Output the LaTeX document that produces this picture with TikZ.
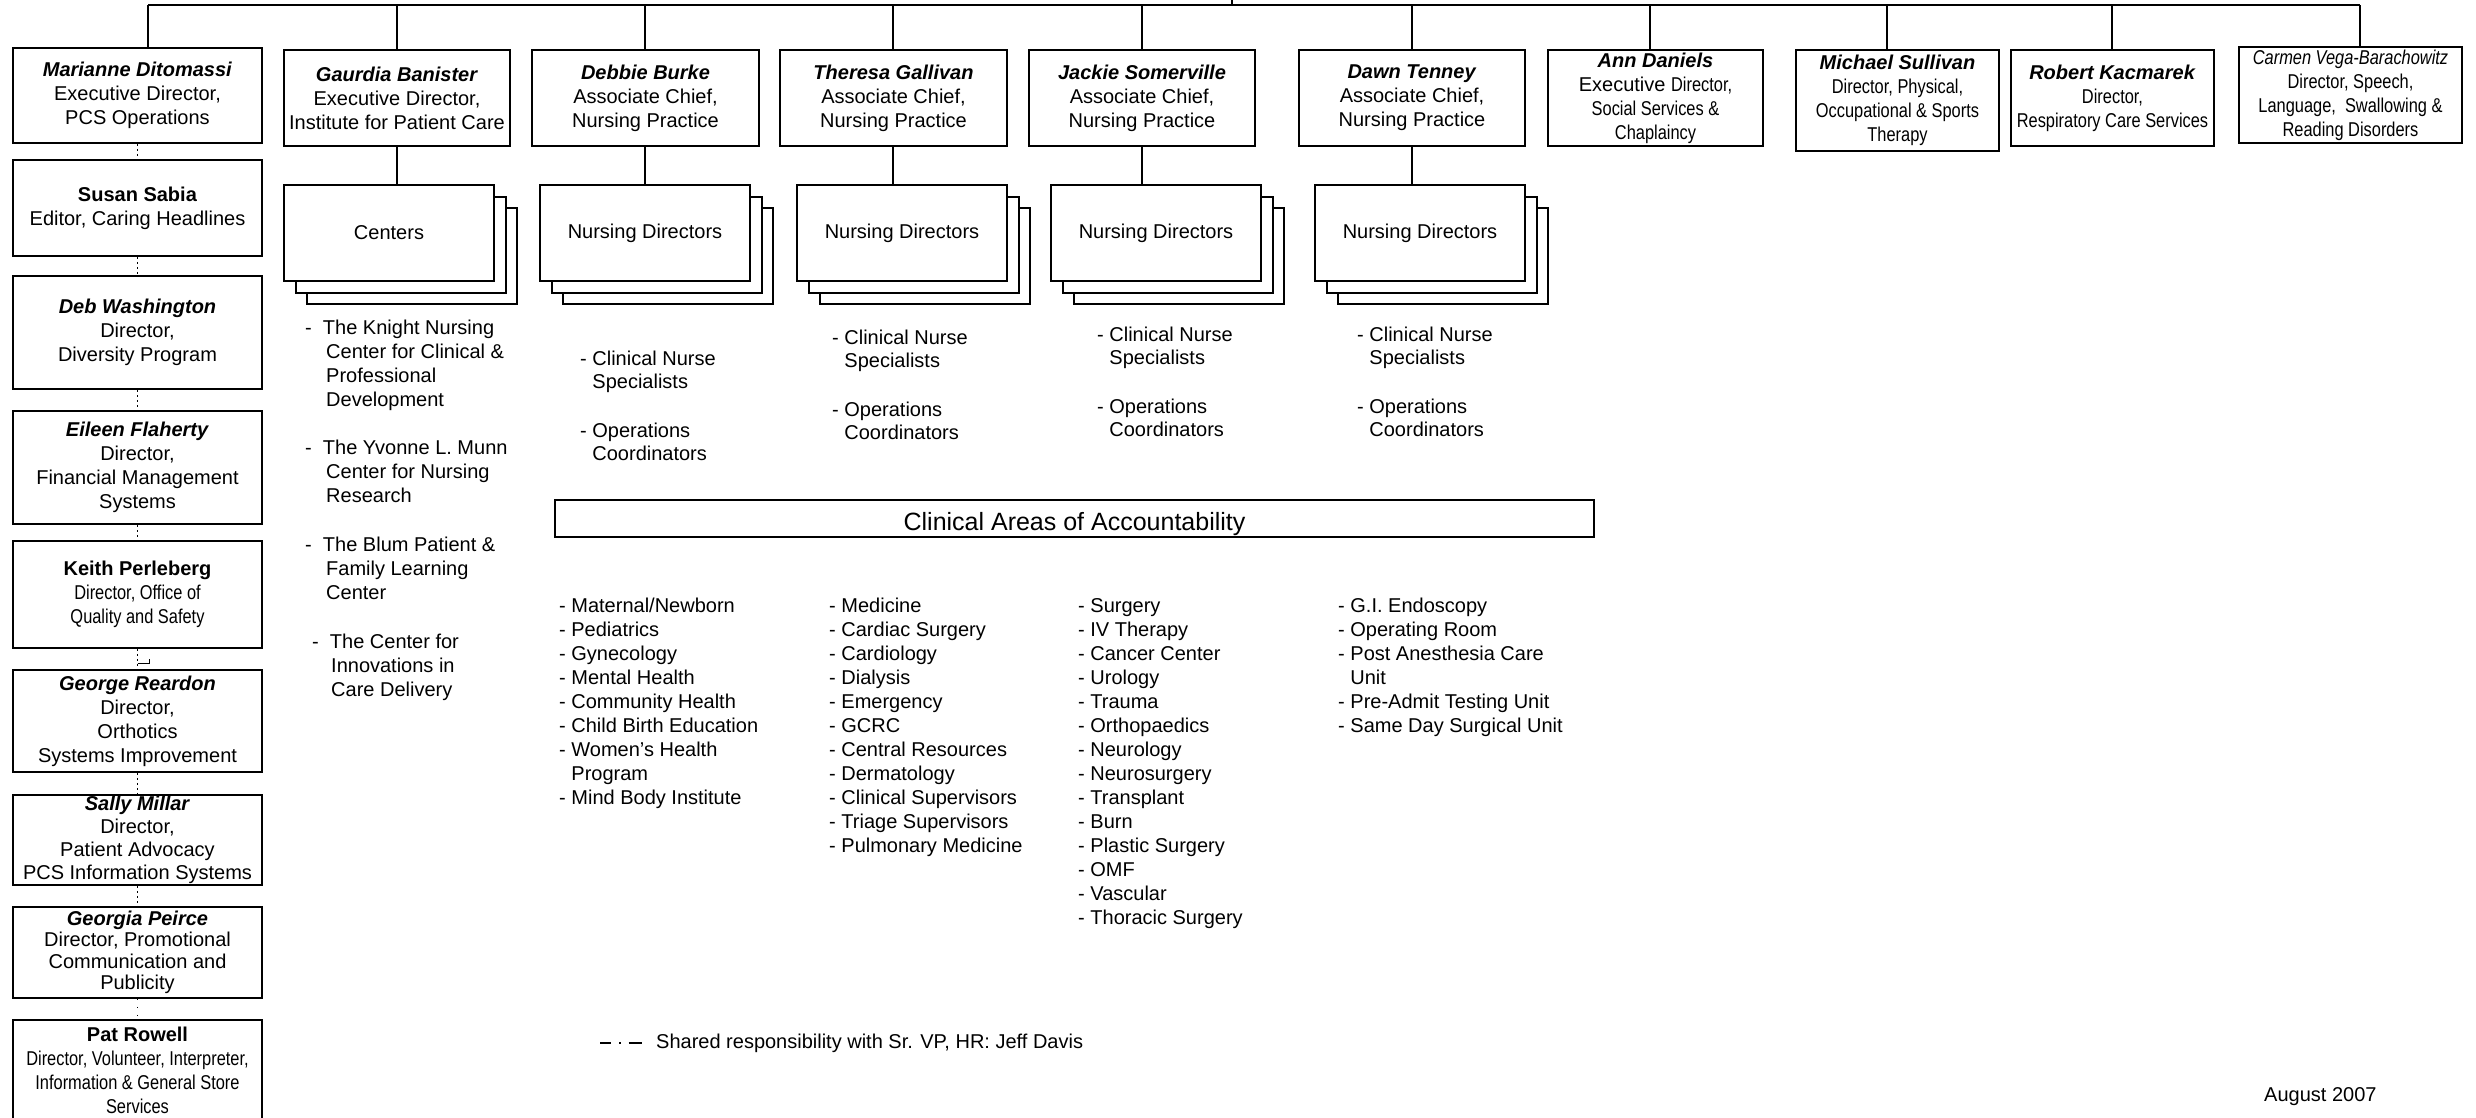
\documentclass[tikz,border=0pt]{standalone}
\usepackage{fontspec}
\setmainfont{Liberation Sans}
\newfontfamily\nfont[FakeStretch=0.82]{Liberation Sans}
\usetikzlibrary{positioning,calc,shadows}
\newcommand\fs{\fontsize{20}{24}\selectfont}

\begin{document}
\begin{tikzpicture}[x=1pt, y=-1pt,
    box/.style={draw, line width=1.6pt, fill=white, align=center,
      inner sep=0pt, font=\fs},
    sz/.style 2 args={minimum width=#1pt, minimum height=#2pt},
    stack/.style={box, sz={210}{96},
      copy shadow={shadow xshift=23pt, shadow yshift=-23pt, draw=black, fill=white, line width=1.6pt, opacity=1},
      copy shadow={shadow xshift=12pt, shadow yshift=-12pt, draw=black, fill=white, line width=1.6pt, opacity=1}},
    list/.style={align=left, inner sep=0pt, font=\fs, anchor=north west},
    link/.style={line width=1.8pt},
    dots/.style={line width=1.4pt, dash pattern=on 2pt off 3pt}]
  \path[use as bounding box, fill=white] (0,0) rectangle (2476,1118);

  % top row
  \node[box, sz={249}{95}] (MD) at (137.5,95.5) {\textbf{\textit{Marianne Ditomassi}}\\Executive Director,\\PCS Operations};
  \node[box, sz={226}{96}] (GB) at (397,98) {\textbf{\textit{Gaurdia Banister}}\\Executive Director,\\Institute for Patient Care};
  \node[box, sz={227}{96}] (DB) at (645.5,98) {\textbf{\textit{Debbie Burke}}\\Associate Chief,\\Nursing Practice};
  \node[box, sz={227}{96}] (TG) at (893.5,98) {\textbf{\textit{Theresa Gallivan}}\\Associate Chief,\\Nursing Practice};
  \node[box, sz={226}{96}] (JS) at (1142,98) {\textbf{\textit{Jackie Somerville}}\\Associate Chief,\\Nursing Practice};
  \node[box, sz={226}{96}] (DT) at (1412,98) {\textbf{\textit{Dawn Tenney}}\\Associate Chief,\\Nursing Practice};
  \node[box, sz={215}{96}] (AD) at (1655.5,98) {\textbf{\textit{Ann Daniels}}\\Executive {\nfont Director,}\\{\nfont Social Services \&}\\{\nfont Chaplaincy}};
  \node[box, sz={203}{101}] (MS) at (1897.5,100.5) {\textbf{\textit{Michael Sullivan}}\\{\nfont Director, Physical,}\\{\nfont Occupational \& Sports}\\{\nfont Therapy}};
  \node[box, sz={203}{96}] (RK) at (2112.5,98) {\textbf{\textit{Robert Kacmarek}}\\{\nfont Director,}\\{\nfont Respiratory Care Services}};
  \node[box, sz={223}{96}] (CV) at (2350.5,95) {{\nfont\itshape Carmen Vega-Barachowitz}\\{\nfont Director, Speech,}\\{\nfont Language,\ \ Swallowing \&}\\{\nfont Reading Disorders}};

  \coordinate (bus) at (0,5);
  \coordinate (root) at (1232,5);
  \foreach \n/\dx in {MD/10.5, GB/0, DB/-0.5, TG/-0.5, JS/0, DT/0, AD/-5.5, MS/-10.5, RK/-0.5, CV/9.5} {
    \coordinate (t\n) at ($(\n.north)+(\dx,0)$);
    \draw[link] (t\n) -- (t\n |- bus);
  }
  \draw[line width=2pt] (tMD |- bus) -- (tCV |- bus);
  \draw[link] (root) -- ++(0,-12);

  % left column
  \node[box, sz={249}{96}] (SS) at (137.5,208) {\textbf{Susan Sabia}\\Editor, Caring Headlines};
  \node[box, sz={249}{113}] (DW) at (137.5,332.5) {\textbf{\textit{Deb Washington}}\\Director,\\Diversity Program};
  \node[box, sz={249}{113}] (EF) at (137.5,467.5) {\textbf{\textit{Eileen Flaherty}}\\Director,\\Financial Management\\Systems};
  \node[box, sz={249}{107}] (KP) at (137.5,594.5) {\textbf{Keith Perleberg}\\{\nfont Director, Office of}\\{\nfont Quality and Safety}};
  \node[box, sz={249}{102}] (GR) at (137.5,721) {\textbf{\textit{George Reardon}}\\Director,\\Orthotics\\Systems Improvement};
  \node[box, sz={249}{90}, font=\fontsize{20}{23}\selectfont] (SM) at (137.5,840) {\textbf{\textit{Sally Millar}}\\Director,\\Patient Advocacy\\PCS Information Systems};
  \node[box, sz={249}{91}, font=\fontsize{20}{21.5}\selectfont] (GP) at (137.5,952.5) {\textbf{\textit{Georgia Peirce}}\\Director, Promotional\\Communication and\\Publicity};
  \node[box, sz={249}{101}] (PR) at (137.5,1070.5) {\textbf{Pat Rowell}\\{\nfont Director, Volunteer, Interpreter,}\\{\nfont Information \& General Store}\\{\nfont Services}};

  \foreach \a/\b in {MD/SS, SS/DW, DW/EF, EF/KP, KP/GR, GR/SM, SM/GP}
    \draw[dots] (\a.south) -- (\b.north);
  \draw[line width=1pt, dash pattern=on 1pt off 7pt] (GP.south) -- (PR.north);
  \draw[line width=1pt] ($(GR.north)+(0,-6)$) -| ++(12,-4);

  % centers and nursing directors
  \node[stack] (CT) at (389,233) {Centers};
  \node[stack] (ND1) at (645,233) {Nursing Directors};
  \node[stack] (ND2) at (902,233) {Nursing Directors};
  \node[stack] (ND3) at (1156,233) {Nursing Directors};
  \node[stack] (ND4) at (1420,233) {Nursing Directors};
  \foreach \a/\b in {GB/CT, DB/ND1, TG/ND2, JS/ND3, DT/ND4}
    \draw[link] (t\a |- \a.south) -- (t\a |- \b.north);

  \node[list] (CL) at (305,320) {-\ \ The Knight Nursing\\
    \hspace*{21pt}Center for Clinical \&\\
    \hspace*{21pt}Professional\\
    \hspace*{21pt}Development\\[24pt]
    -\ \ The Yvonne L. Munn\\
    \hspace*{21pt}Center for Nursing\\
    \hspace*{21pt}Research\\[25pt]
    -\ \ The Blum Patient \&\\
    \hspace*{21pt}Family Learning\\
    \hspace*{21pt}Center\\[25pt]
    \hspace*{7pt}-\ \ The Center for\\
    \hspace*{26pt}Innovations in\\
    \hspace*{26pt}Care Delivery};

  \foreach \n/\x/\y in {NL1/580/351, NL2/832/330, NL3/1097/327, NL4/1357/327}
    \node[list, font=\fontsize{20}{23}\selectfont] (\n) at (\x,\y) {- Clinical Nurse\\\hphantom{- }Specialists\\[26pt]- Operations\\\hphantom{- }Coordinators};

  % clinical areas
  \node[box, sz={1039}{37}, font=\fontsize{25}{30}\selectfont] (CA) at (1074.5,518.5) {\raisebox{-3pt}[18pt][0pt]{Clinical Areas of Accountability}};

  \node[list] (A1) at (559,598) {- Maternal/Newborn\\- Pediatrics\\- Gynecology\\- Mental Health\\- Community Health\\- Child Birth Education\\- Women's Health\\\hphantom{- }Program\\- Mind Body Institute};
  \node[list] (A2) at (829,598) {- Medicine\\- Cardiac Surgery\\- Cardiology\\- Dialysis\\- Emergency\\- GCRC\\- Central Resources\\- Dermatology\\- Clinical Supervisors\\- Triage Supervisors\\- Pulmonary Medicine};
  \node[list] (A3) at (1078,598) {- Surgery\\- IV Therapy\\- Cancer Center\\- Urology\\- Trauma\\- Orthopaedics\\- Neurology\\- Neurosurgery\\- Transplant\\- Burn\\- Plastic Surgery\\- OMF\\- Vascular\\- Thoracic Surgery};
  \node[list] (A4) at (1338,598) {- G.I. Endoscopy\\- Operating Room\\- Post Anesthesia Care\\\hphantom{- }Unit\\- Pre-Admit Testing Unit\\- Same Day Surgical Unit};

  % legend
  \node[font=\fs, anchor=west, inner sep=0pt] (LG) at (656,1043) {Shared responsibility with Sr. VP, HR: Jeff Davis};
  \draw[line width=1.6pt, dash pattern=on 11pt off 8pt on 1.5pt off 8pt on 13pt] ([xshift=-56pt]LG.west) -- ([xshift=-13pt]LG.west);
  \node[font=\fs, anchor=west, inner sep=0pt] (DATE) at (2264,1097) {August 2007};
\end{tikzpicture}
\end{document}
